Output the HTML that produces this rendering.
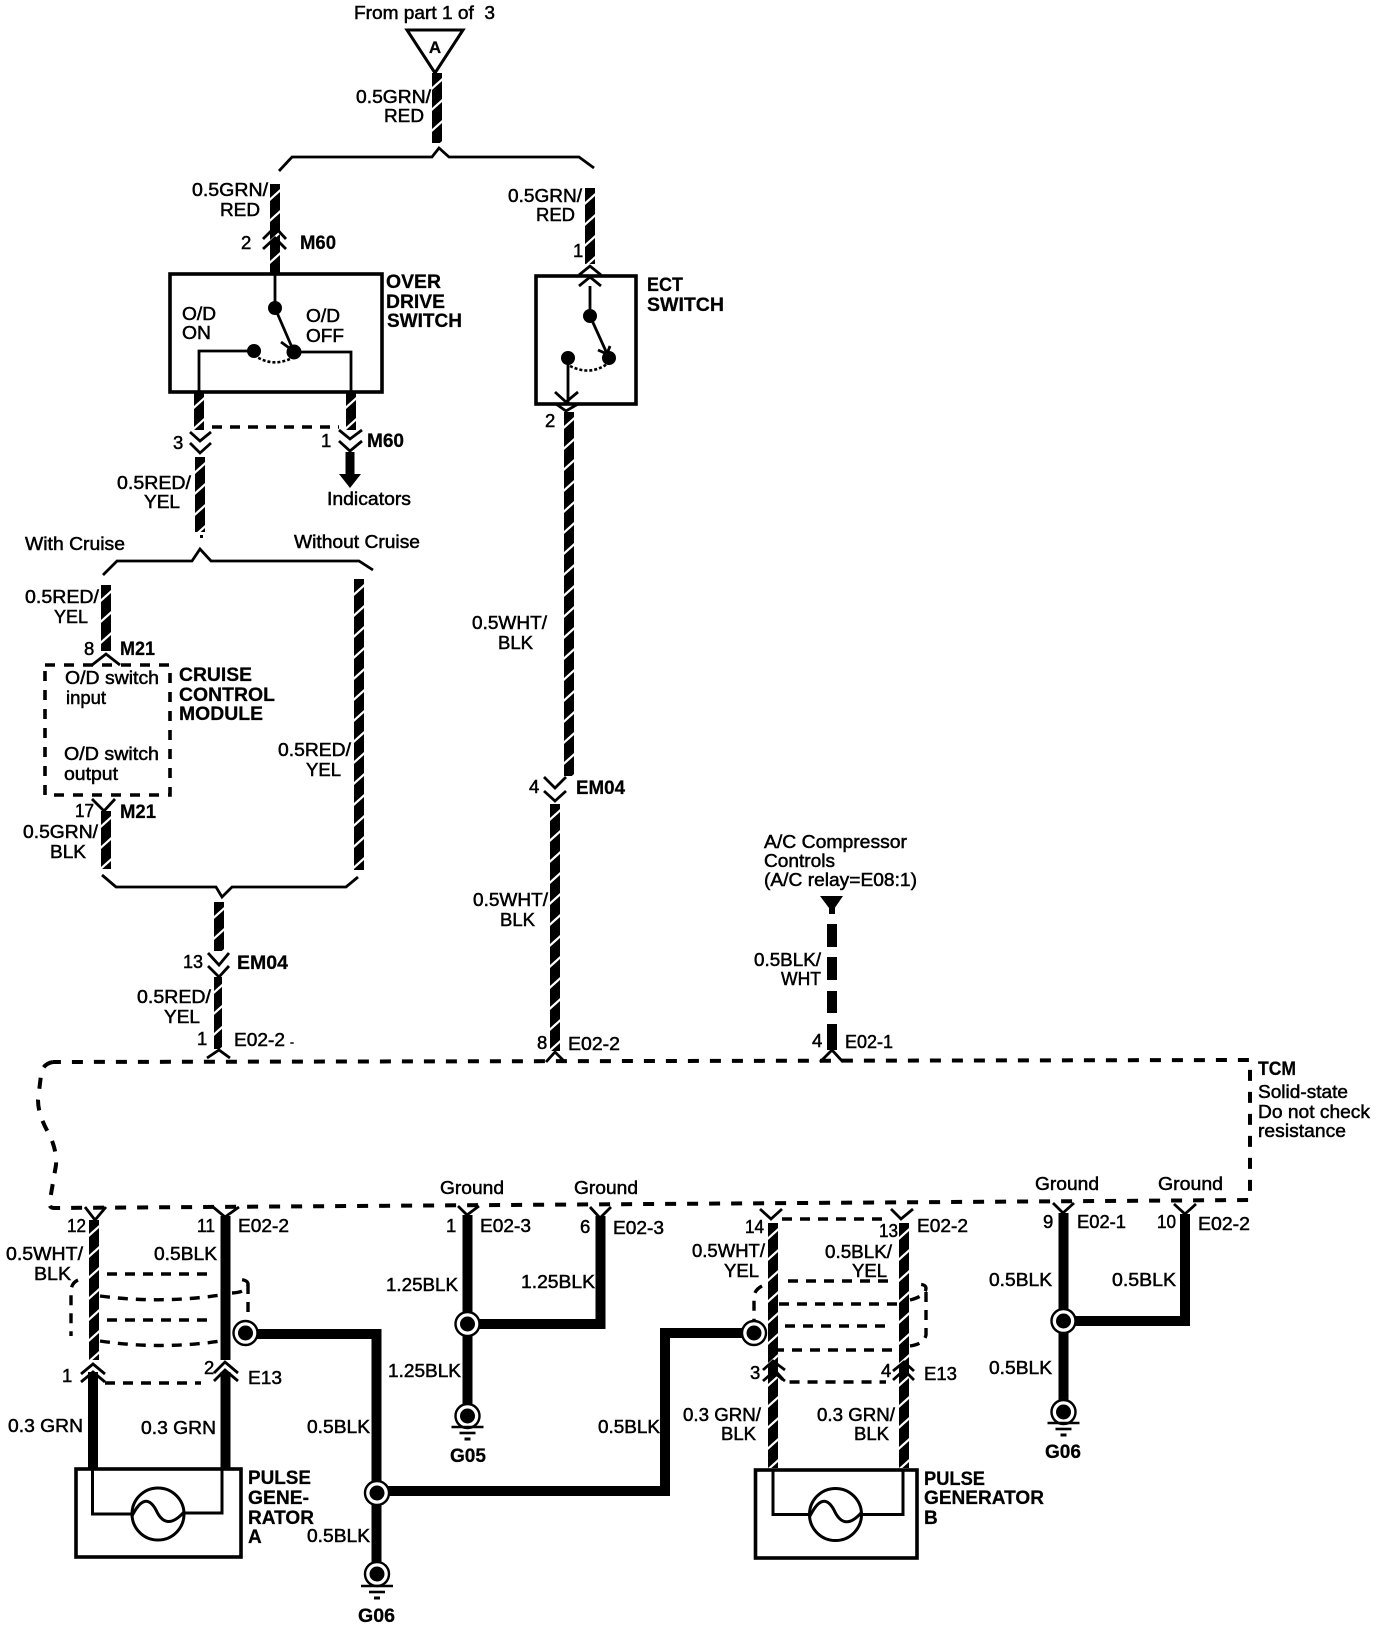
<!DOCTYPE html>
<html><head><meta charset="utf-8"><style>
html,body{margin:0;padding:0;background:#fff}
svg{display:block}
text{font-family:"Liberation Sans",sans-serif;font-size:18.5px;fill:#000;stroke:#000;stroke-width:.5}
.b{font-weight:bold;font-size:19px;stroke-width:.25}
.l{fill:none;stroke:#000;stroke-width:2.8}
.m{fill:none;stroke:#000;stroke-width:3}
.box{fill:none;stroke:#000;stroke-width:3.6}
.d{fill:none;stroke:#000;stroke-width:4;stroke-dasharray:11 11}
.s{fill:none;stroke:#000;stroke-width:3.4;stroke-dasharray:10 8}
.w{fill:none;stroke:#000;stroke-width:10}
</style></head><body>
<svg xmlns="http://www.w3.org/2000/svg" width="1376" height="1630" viewBox="0 0 1376 1630">
<defs>
<pattern id="tw" patternUnits="userSpaceOnUse" x="0" y="0" width="10" height="21">
<rect width="10" height="21" fill="#000"/>
<path d="M0 14L10 5V8L0 17Z" fill="#fff"/>
</pattern>
<g id="gnd"><path d="M-16 11H16" stroke="#000" stroke-width="2.6"/><path d="M-8 17H8" stroke="#000" stroke-width="2.6"/><path d="M-3 23H3" stroke="#000" stroke-width="3"/></g>
<g id="nd"><circle r="12" fill="#fff" stroke="#000" stroke-width="2.4"/><circle r="7.5" fill="#000"/></g>
</defs>
<rect width="1376" height="1630" fill="#fff"/>

<!-- twisted wires -->
<rect transform="translate(432,73)" width="10" height="70" fill="url(#tw)"/>
<rect transform="translate(270,184)" width="10" height="89" fill="url(#tw)"/>
<rect transform="translate(585,188)" width="10" height="76" fill="url(#tw)"/>
<rect transform="translate(194,392)" width="10" height="38" fill="url(#tw)"/>
<rect transform="translate(346,392)" width="10" height="38" fill="url(#tw)"/>
<rect transform="translate(195,457)" width="10" height="75" fill="url(#tw)"/>
<rect x="200" y="535" width="3" height="3" fill="#000"/>
<rect transform="translate(564,412)" width="10" height="364" fill="url(#tw)"/>
<rect transform="translate(101,585)" width="10" height="66" fill="url(#tw)"/>
<rect transform="translate(354,579)" width="10" height="291" fill="url(#tw)"/>
<rect transform="translate(101,811)" width="10" height="58" fill="url(#tw)"/>
<rect transform="translate(214,902)" width="10" height="49" fill="url(#tw)"/>
<rect transform="translate(214,977)" width="8" height="72" fill="url(#tw)"/>
<rect transform="translate(550,804)" width="10" height="247" fill="url(#tw)"/>
<rect transform="translate(89,1220)" width="10" height="140" fill="url(#tw)"/>
<rect transform="translate(768,1223)" width="10" height="245" fill="url(#tw)"/>
<rect transform="translate(899,1223)" width="10" height="245" fill="url(#tw)"/>

<!-- dashed heavy wire -->
<path d="M832 924V947M832 957V980M832 991V1013M832 1024V1050" class="w"/>
<path d="M820 896H843L832 912Z" fill="#000"/><rect x="829" y="905" width="6" height="9" fill="#000"/>

<!-- solid heavy wires -->
<path class="w" d="M93 1372V1468M225.5 1216V1360M225.5 1372V1468"/>
<path class="w" d="M467.5 1215V1406M467.5 1324H600.5V1216"/>
<path class="w" d="M245 1334H376.5V1566M377 1491H665V1333H745"/>
<path class="w" d="M1063.5 1213V1404M1063.5 1321H1185V1214"/>
<rect x="345.5" y="452" width="9" height="24" fill="#000"/>
<path d="M339 474H361L350 488Z" fill="#000"/>

<!-- top -->
<path d="M407 30H463L435 73Z" fill="#fff" stroke="#000" stroke-width="3"/>
<text class="b" x="435" y="53" text-anchor="middle" style="font-size:17px">A</text>
<path class="l" d="M279 171L292 157H432L439 148L449 157H579L594 168"/>
<path class="l" d="M263 239L275 227L286 239M263 249L275 238L286 249"/>
<path class="l" d="M579 275L590 266L601 275M579 286L590 277L601 286"/>

<!-- over drive switch -->
<rect class="box" x="170" y="274" width="212" height="118"/>
<path class="l" d="M275 274V308M275 308L294 352M281 342L292 350"/>
<circle cx="275" cy="308" r="7" fill="#000"/><circle cx="294" cy="352" r="7.5" fill="#000"/><circle cx="254" cy="351" r="7" fill="#000"/>
<path d="M254 355Q272 368 292 358" fill="none" stroke="#000" stroke-width="2.6" stroke-dasharray="3 2"/>
<path class="l" d="M254 351H199V392M294 352H351V392"/>
<path class="l" d="M190 432L200 441L211 432M190 443L200 453L211 443"/>
<path class="l" d="M339 430L350 439L362 430M339 441L350 451L362 441"/>
<path class="s" d="M212 427H339"/>

<!-- ECT -->
<rect class="box" x="536" y="276" width="100" height="128"/>
<path class="l" d="M590 286V316M590 316L609 358M568 358V404M598 350L607 354L610 346"/>
<circle cx="590" cy="316" r="7" fill="#000"/><circle cx="609" cy="358" r="7" fill="#000"/><circle cx="568" cy="358" r="7" fill="#000"/>
<path d="M570 366Q590 376 607 364" fill="none" stroke="#000" stroke-width="2.6" stroke-dasharray="3 2"/>
<path class="l" d="M555 392L566 402L578 392M556 404L566 411L578 404"/>

<!-- cruise -->
<path class="l" d="M103 575L117 561H192L200 549L211 561H359L373 570"/>
<path class="l" d="M92 665L106 654L120 665"/>
<path class="s" style="stroke-width:3.6;stroke-dasharray:10 9" d="M45 665H170V795H45Z"/>
<path class="l" d="M92 799L104 811L115 799"/>
<path class="l" d="M102 875L116 887H216L222 897L232 887H346L358 877"/>
<path class="l" d="M208 953L219 965L229 953M208 966L219 977L229 966"/>
<path class="l" d="M207 1058L219 1050L230 1058"/>
<path class="l" d="M544 777L555 788L566 777M544 791L555 801L566 791"/>
<path class="l" d="M546 1062L555 1052L565 1062"/>
<path class="l" d="M820 1062L832 1050L843 1062"/>

<!-- TCM -->
<path class="d" d="M53 1062Q42 1064 41 1075L38 1100Q38 1115 49 1134Q57 1150 56 1165L50 1200Q48 1208 54 1208L1250 1200V1060L53 1062"/>

<!-- bottom chevrons -->
<path class="l" d="M85 1207L95 1220L106 1207M213 1207L225 1217L239 1207"/>
<path class="l" d="M458 1206L467 1215L479 1206M590 1207L600 1218L611 1207"/>
<path class="l" d="M760 1209L771 1219L782 1209M891 1209L901 1219L913 1209"/>
<path class="l" d="M1053 1203L1063 1213L1074 1203M1174 1204L1185 1214L1196 1204"/>
<path class="s" d="M782 1219H890"/>

<!-- chevrons lower -->
<path class="l" d="M81 1374L93 1364L105 1374M81 1382L93 1372L105 1382"/>
<path class="l" d="M214 1373L225 1362L238 1373M214 1381L225 1370L238 1381"/>
<path class="l" d="M763 1370L773 1361L785 1370M763 1381L773 1372L785 1381"/>
<path class="l" d="M893 1371L904 1362L914 1371M893 1380L904 1370L914 1380"/>

<!-- shield A -->
<path class="s" d="M107 1274H212"/>
<path class="s" d="M100 1296Q160 1304 221 1295"/>
<path class="s" d="M232 1293Q248 1292 248 1284Q248 1280 238 1279M248 1284V1312"/>
<path class="s" d="M107 1320H212"/>
<path class="s" d="M100 1341Q160 1350 221 1341"/>
<path class="s" d="M78 1280Q71 1283 71 1292V1336"/>
<path class="s" d="M105 1383H201"/>
<!-- shield B -->
<path class="s" d="M788 1281H890"/>
<path class="s" d="M779 1304H899"/>
<path class="s" d="M910 1300Q926 1296 926 1288Q926 1284 916 1284M926 1292V1335Q924 1344 910 1346"/>
<path class="s" d="M785 1326H890"/>
<path class="s" d="M774 1350H897"/>
<path class="s" d="M762 1286Q754 1290 754 1298V1320"/>
<path class="s" d="M776 1372L785 1382H886"/>

<!-- pulse gen A -->
<rect class="box" x="76" y="1469" width="165" height="88"/>
<path class="m" d="M92.5 1470V1514H132M222 1470V1513H184"/>
<circle cx="158" cy="1514" r="26" fill="none" stroke="#000" stroke-width="3"/>
<path class="m" d="M132 1516Q145 1490 156 1510Q166 1532 184 1512"/>
<!-- pulse gen B -->
<rect class="box" x="755.5" y="1470" width="161.5" height="88"/>
<path class="m" d="M773 1471V1514.5H810M903 1471V1514.5H861"/>
<circle cx="835.5" cy="1514.5" r="26" fill="none" stroke="#000" stroke-width="3"/>
<path class="m" d="M810 1516Q823 1490 834 1510Q844 1532 861 1513"/>

<!-- nodes -->
<use href="#nd" x="245.5" y="1333"/>
<use href="#nd" x="467.5" y="1324"/>
<use href="#nd" x="754" y="1333"/>
<use href="#nd" x="377" y="1493"/>
<use href="#nd" x="1063.5" y="1321"/>
<use href="#nd" x="377" y="1574"/><use href="#gnd" x="377" y="1575"/>
<use href="#nd" x="467.5" y="1416"/><use href="#gnd" x="467.5" y="1416"/>
<use href="#nd" x="1063.5" y="1412"/><use href="#gnd" x="1063.5" y="1412"/>

<!-- labels -->
<text x="354" y="19" textLength="141" lengthAdjust="spacingAndGlyphs" xml:space="preserve">From part 1 of  3</text>
<text x="356" y="103" textLength="75" lengthAdjust="spacingAndGlyphs">0.5GRN/</text>
<text x="384" y="122" textLength="40" lengthAdjust="spacingAndGlyphs">RED</text>
<text x="192" y="196" textLength="76" lengthAdjust="spacingAndGlyphs">0.5GRN/</text>
<text x="220" y="216" textLength="40" lengthAdjust="spacingAndGlyphs">RED</text>
<text x="508" y="202" textLength="74" lengthAdjust="spacingAndGlyphs">0.5GRN/</text>
<text x="536" y="221" textLength="39" lengthAdjust="spacingAndGlyphs">RED</text>
<text x="241" y="249">2</text>
<text class="b" x="300" y="249" textLength="36" lengthAdjust="spacingAndGlyphs">M60</text>
<text x="573" y="257">1</text>
<text class="b" x="386" y="288" textLength="55" lengthAdjust="spacingAndGlyphs">OVER</text>
<text class="b" x="386" y="308" textLength="59" lengthAdjust="spacingAndGlyphs">DRIVE</text>
<text class="b" x="387" y="327" textLength="75" lengthAdjust="spacingAndGlyphs">SWITCH</text>
<text x="182" y="320" textLength="34" lengthAdjust="spacingAndGlyphs">O/D</text>
<text x="182" y="339" textLength="29" lengthAdjust="spacingAndGlyphs">ON</text>
<text x="306" y="322" textLength="34" lengthAdjust="spacingAndGlyphs">O/D</text>
<text x="306" y="342" textLength="38" lengthAdjust="spacingAndGlyphs">OFF</text>
<text class="b" x="647" y="291" textLength="36" lengthAdjust="spacingAndGlyphs">ECT</text>
<text class="b" x="647" y="311" textLength="77" lengthAdjust="spacingAndGlyphs">SWITCH</text>
<text x="545" y="427">2</text>
<text x="173" y="449">3</text>
<text x="321" y="447">1</text>
<text class="b" x="367" y="447" textLength="37" lengthAdjust="spacingAndGlyphs">M60</text>
<text x="117" y="489" textLength="74" lengthAdjust="spacingAndGlyphs">0.5RED/</text>
<text x="144" y="508" textLength="36" lengthAdjust="spacingAndGlyphs">YEL</text>
<text x="327" y="505" textLength="84" lengthAdjust="spacingAndGlyphs">Indicators</text>
<text x="25" y="550" textLength="100" lengthAdjust="spacingAndGlyphs">With Cruise</text>
<text x="294" y="548" textLength="126" lengthAdjust="spacingAndGlyphs">Without Cruise</text>
<text x="25" y="603" textLength="74" lengthAdjust="spacingAndGlyphs">0.5RED/</text>
<text x="54" y="623" textLength="34" lengthAdjust="spacingAndGlyphs">YEL</text>
<text x="84" y="655">8</text>
<text class="b" x="120" y="655" textLength="35" lengthAdjust="spacingAndGlyphs">M21</text>
<text x="65" y="684" textLength="94" lengthAdjust="spacingAndGlyphs">O/D switch</text>
<text x="66" y="704" textLength="40" lengthAdjust="spacingAndGlyphs">input</text>
<text x="64" y="760" textLength="95" lengthAdjust="spacingAndGlyphs">O/D switch</text>
<text x="64" y="780" textLength="54" lengthAdjust="spacingAndGlyphs">output</text>
<text class="b" x="179" y="681" textLength="73" lengthAdjust="spacingAndGlyphs">CRUISE</text>
<text class="b" x="179" y="701" textLength="96" lengthAdjust="spacingAndGlyphs">CONTROL</text>
<text class="b" x="179" y="720" textLength="84" lengthAdjust="spacingAndGlyphs">MODULE</text>
<text x="278" y="756" textLength="73" lengthAdjust="spacingAndGlyphs">0.5RED/</text>
<text x="306" y="776" textLength="35" lengthAdjust="spacingAndGlyphs">YEL</text>
<text x="75" y="817" textLength="19" lengthAdjust="spacingAndGlyphs">17</text>
<text class="b" x="120" y="818" textLength="36" lengthAdjust="spacingAndGlyphs">M21</text>
<text x="23" y="838" textLength="75" lengthAdjust="spacingAndGlyphs">0.5GRN/</text>
<text x="50" y="858" textLength="36" lengthAdjust="spacingAndGlyphs">BLK</text>
<text x="472" y="629" textLength="75" lengthAdjust="spacingAndGlyphs">0.5WHT/</text>
<text x="498" y="649" textLength="35" lengthAdjust="spacingAndGlyphs">BLK</text>
<text x="529" y="793">4</text>
<text class="b" x="576" y="794" textLength="49" lengthAdjust="spacingAndGlyphs">EM04</text>
<text x="473" y="906" textLength="75" lengthAdjust="spacingAndGlyphs">0.5WHT/</text>
<text x="500" y="926" textLength="35" lengthAdjust="spacingAndGlyphs">BLK</text>
<text x="183" y="968" textLength="20" lengthAdjust="spacingAndGlyphs">13</text>
<text class="b" x="237" y="969" textLength="51" lengthAdjust="spacingAndGlyphs">EM04</text>
<text x="137" y="1003" textLength="74" lengthAdjust="spacingAndGlyphs">0.5RED/</text>
<text x="164" y="1023" textLength="36" lengthAdjust="spacingAndGlyphs">YEL</text>
<text x="197" y="1045">1</text>
<text x="234" y="1046" textLength="51" lengthAdjust="spacingAndGlyphs">E02-2</text>
<text x="290" y="1046" style="font-size:12px">-</text>
<text x="537" y="1049">8</text>
<text x="568" y="1050" textLength="52" lengthAdjust="spacingAndGlyphs">E02-2</text>
<text x="764" y="848" textLength="143" lengthAdjust="spacingAndGlyphs">A/C Compressor</text>
<text x="764" y="867" textLength="71" lengthAdjust="spacingAndGlyphs">Controls</text>
<text x="764" y="886" textLength="153" lengthAdjust="spacingAndGlyphs">(A/C relay=E08:1)</text>
<text x="754" y="966" textLength="67" lengthAdjust="spacingAndGlyphs">0.5BLK/</text>
<text x="781" y="985" textLength="40" lengthAdjust="spacingAndGlyphs">WHT</text>
<text x="812" y="1047">4</text>
<text x="845" y="1048" textLength="48" lengthAdjust="spacingAndGlyphs">E02-1</text>
<text class="b" x="1258" y="1075" textLength="38" lengthAdjust="spacingAndGlyphs">TCM</text>
<text x="1258" y="1098" textLength="90" lengthAdjust="spacingAndGlyphs">Solid-state</text>
<text x="1258" y="1118" textLength="112" lengthAdjust="spacingAndGlyphs">Do not check</text>
<text x="1258" y="1137" textLength="88" lengthAdjust="spacingAndGlyphs">resistance</text>
<text x="67" y="1232" textLength="19" lengthAdjust="spacingAndGlyphs">12</text>
<text x="197" y="1232" textLength="18" lengthAdjust="spacingAndGlyphs">11</text>
<text x="238" y="1232" textLength="51" lengthAdjust="spacingAndGlyphs">E02-2</text>
<text x="6" y="1260" textLength="77" lengthAdjust="spacingAndGlyphs">0.5WHT/</text>
<text x="34" y="1280" textLength="37" lengthAdjust="spacingAndGlyphs">BLK</text>
<text x="154" y="1260" textLength="63" lengthAdjust="spacingAndGlyphs">0.5BLK</text>
<text x="440" y="1194" textLength="64" lengthAdjust="spacingAndGlyphs">Ground</text>
<text x="574" y="1194" textLength="64" lengthAdjust="spacingAndGlyphs">Ground</text>
<text x="446" y="1232">1</text>
<text x="480" y="1232" textLength="51" lengthAdjust="spacingAndGlyphs">E02-3</text>
<text x="580" y="1233">6</text>
<text x="613" y="1234" textLength="51" lengthAdjust="spacingAndGlyphs">E02-3</text>
<text x="386" y="1291" textLength="72" lengthAdjust="spacingAndGlyphs">1.25BLK</text>
<text x="521" y="1288" textLength="74" lengthAdjust="spacingAndGlyphs">1.25BLK</text>
<text x="388" y="1377" textLength="73" lengthAdjust="spacingAndGlyphs">1.25BLK</text>
<text class="b" x="450" y="1462" textLength="36" lengthAdjust="spacingAndGlyphs">G05</text>
<text x="62" y="1382">1</text>
<text x="204" y="1374">2</text>
<text x="248" y="1384" textLength="34" lengthAdjust="spacingAndGlyphs">E13</text>
<text x="8" y="1432" textLength="75" lengthAdjust="spacingAndGlyphs">0.3 GRN</text>
<text x="141" y="1434" textLength="75" lengthAdjust="spacingAndGlyphs">0.3 GRN</text>
<text x="307" y="1433" textLength="63" lengthAdjust="spacingAndGlyphs">0.5BLK</text>
<text x="598" y="1433" textLength="62" lengthAdjust="spacingAndGlyphs">0.5BLK</text>
<text x="307" y="1542" textLength="63" lengthAdjust="spacingAndGlyphs">0.5BLK</text>
<text class="b" x="248" y="1484" textLength="63" lengthAdjust="spacingAndGlyphs">PULSE</text>
<text class="b" x="248" y="1504" textLength="61" lengthAdjust="spacingAndGlyphs">GENE-</text>
<text class="b" x="248" y="1524" textLength="66" lengthAdjust="spacingAndGlyphs">RATOR</text>
<text class="b" x="248" y="1543">A</text>
<text class="b" x="358" y="1622" textLength="37" lengthAdjust="spacingAndGlyphs">G06</text>
<text x="745" y="1233" textLength="19" lengthAdjust="spacingAndGlyphs">14</text>
<text x="879" y="1237" textLength="19" lengthAdjust="spacingAndGlyphs">13</text>
<text x="917" y="1232" textLength="51" lengthAdjust="spacingAndGlyphs">E02-2</text>
<text x="692" y="1257" textLength="73" lengthAdjust="spacingAndGlyphs">0.5WHT/</text>
<text x="724" y="1277" textLength="35" lengthAdjust="spacingAndGlyphs">YEL</text>
<text x="825" y="1258" textLength="67" lengthAdjust="spacingAndGlyphs">0.5BLK/</text>
<text x="852" y="1277" textLength="35" lengthAdjust="spacingAndGlyphs">YEL</text>
<text x="750" y="1379">3</text>
<text x="881" y="1377">4</text>
<text x="924" y="1380" textLength="33" lengthAdjust="spacingAndGlyphs">E13</text>
<text x="683" y="1421" textLength="78" lengthAdjust="spacingAndGlyphs">0.3 GRN/</text>
<text x="721" y="1440" textLength="35" lengthAdjust="spacingAndGlyphs">BLK</text>
<text x="817" y="1421" textLength="78" lengthAdjust="spacingAndGlyphs">0.3 GRN/</text>
<text x="854" y="1440" textLength="35" lengthAdjust="spacingAndGlyphs">BLK</text>
<text class="b" x="924" y="1485" textLength="61" lengthAdjust="spacingAndGlyphs">PULSE</text>
<text class="b" x="924" y="1504" textLength="120" lengthAdjust="spacingAndGlyphs">GENERATOR</text>
<text class="b" x="924" y="1524">B</text>
<text x="1035" y="1190" textLength="64" lengthAdjust="spacingAndGlyphs">Ground</text>
<text x="1158" y="1190" textLength="65" lengthAdjust="spacingAndGlyphs">Ground</text>
<text x="1043" y="1228">9</text>
<text x="1077" y="1228" textLength="49" lengthAdjust="spacingAndGlyphs">E02-1</text>
<text x="1157" y="1228" textLength="19" lengthAdjust="spacingAndGlyphs">10</text>
<text x="1198" y="1230" textLength="52" lengthAdjust="spacingAndGlyphs">E02-2</text>
<text x="989" y="1286" textLength="63" lengthAdjust="spacingAndGlyphs">0.5BLK</text>
<text x="1112" y="1286" textLength="64" lengthAdjust="spacingAndGlyphs">0.5BLK</text>
<text x="989" y="1374" textLength="63" lengthAdjust="spacingAndGlyphs">0.5BLK</text>
<text class="b" x="1045" y="1458" textLength="36" lengthAdjust="spacingAndGlyphs">G06</text>
</svg>
</body></html>
